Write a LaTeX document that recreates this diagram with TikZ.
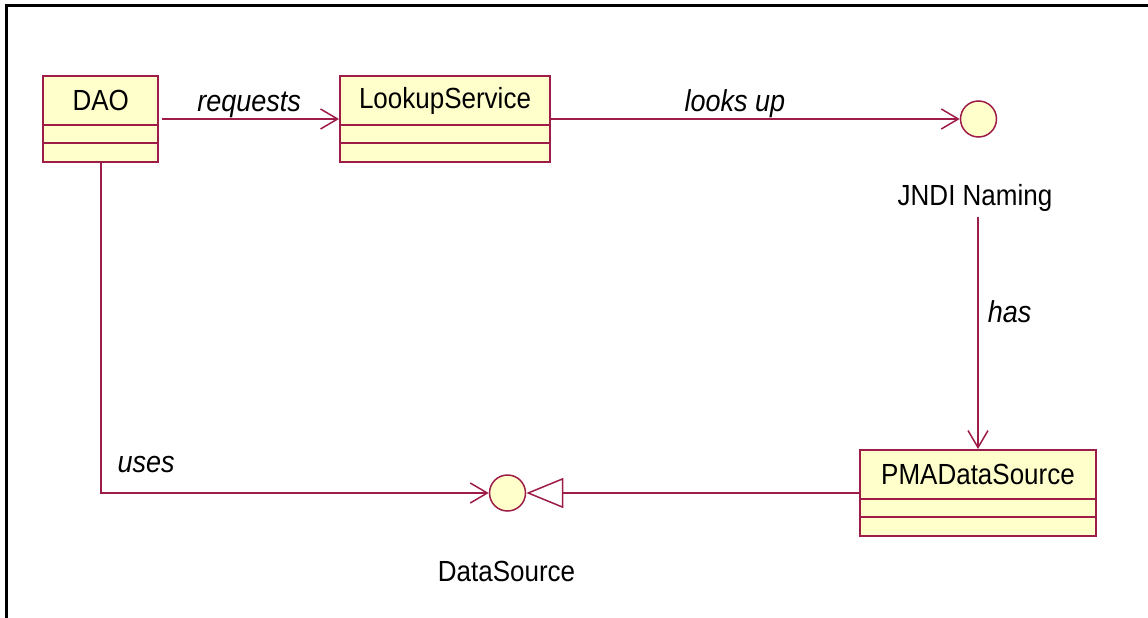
\documentclass[tikz,border=0pt]{standalone}
\usepackage{fontspec}
\setmainfont{Liberation Sans}
\usetikzlibrary{arrows.meta,calc}
\definecolor{umlline}{RGB}{158,28,72}
\definecolor{umlfill}{RGB}{255,255,204}

% slightly tall lettering, as in the original tool's screen font
\newcommand\umltext[1]{\scalebox{1}[1.12]{#1}}

% class box with name compartment and two empty compartments
% #1 name, #2 x, #3 y, #4 width, #5 title
\newcommand\umlclass[5]{%
  \node[classbox, minimum width=#4pt] (#1) at (#2,#3) {};
  \node[classname] (#1-title) at ([yshift=-25.5pt]#1.north) {\umltext{#5}};
  \draw[umlline, line width=2pt] ([yshift=38pt]#1.south west) -- ([yshift=38pt]#1.south east);
  \draw[umlline, line width=2pt] ([yshift=20pt]#1.south west) -- ([yshift=20pt]#1.south east);
}

\begin{document}
\begin{tikzpicture}[x=1pt,y=-1pt,
  classbox/.style={draw=umlline, fill=umlfill, line width=2pt, inner sep=0pt, minimum height=86pt},
  iface/.style={circle, draw=umlline, fill=umlfill, line width=1.5pt, inner sep=0pt, minimum size=36pt},
  conn/.style={draw=umlline, line width=1.8pt},
  dep/.style={conn, -{Straight Barb[length=17pt,width=20pt,line width=1.5pt]}},
  realize/.style={conn, -{Triangle[open,fill=white,length=37pt,width=30pt,line width=1.5pt]}},
  classname/.style={font=\fontsize{26}{30}\selectfont, text=black, inner sep=0pt},
  role/.style={font=\fontsize{27}{30}\selectfont\itshape, text=black, inner sep=0pt},
]
\useasboundingbox (0,0) rectangle (1148,618);
\fill[white] (0,0) rectangle (1148,618);

% frame
\draw[line width=3pt] (6,618) -- (6,6) -- (1148,6);

% classes
\umlclass{dao}{100.8}{119}{115}{DAO}
\umlclass{lookup}{445}{119}{210}{LookupService}
\umlclass{pma}{978}{493}{236}{PMADataSource}

% interfaces
\node[iface] (jndi) at (978.5,119) {};
\node[classname] (jndi-name) at (975,198) {\umltext{JNDI Naming}};
\node[iface] (ds) at (507.5,493) {};
\node[classname] (ds-name) at (506.5,571) {\umltext{DataSource}};

% relations
\draw[dep, shorten <=3pt] (dao.east) -- (lookup.west)
  node[role, midway, above=0.5pt] {\umltext{requests}};
\draw[dep] (lookup.east) -- (jndi.west)
  node[role, pos=0.45, above=0.5pt] {\umltext{looks up}};
\draw[dep, shorten <=5pt] (pma.north |- jndi-name.south) -- (pma.north)
  node[role, pos=0.42, right=9pt] {\umltext{has}};
\draw[dep] (dao.south) |- (ds.west)
  node[role, pos=0.5, anchor=south west, xshift=16pt, yshift=19pt] {\umltext{uses}};
\draw[realize] (pma.west) -- (ds.east);
\end{tikzpicture}
\end{document}
